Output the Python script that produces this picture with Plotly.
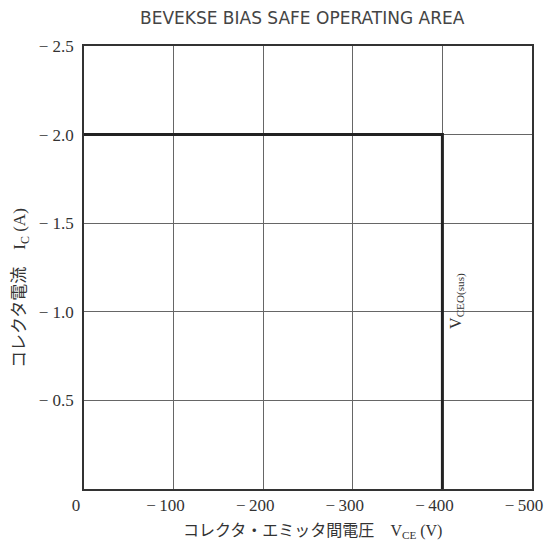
import plotly.graph_objects as go

# Data
soa_vce = [0, -400, -400]
soa_ic = [-2.0, -2.0, 0.0]
x_ticks = [0, -100, -200, -300, -400, -500]
x_tick_labels = ["0", "−\u2009100", "−\u2009200", "−\u2009300", "−\u2009400", "−\u2009500"]
y_ticks = [-0.5, -1.0, -1.5, -2.0, -2.5]
y_tick_labels = ["− 0.5", "− 1.0", "− 1.5", "− 2.0", "− 2.5"]

title_text = "BEVEKSE BIAS SAFE OPERATING AREA"
serif = "Liberation Serif, Times New Roman, serif"
cjk = "Noto Sans CJK JP, Liberation Serif, serif"
x_title = ("コレクタ・エミッタ間電圧　"
           f"<span style='font-family:{serif}'>V<sub>CE</sub> (V)</span>")
y_title = ("コレクタ電流　"
           f"<span style='font-family:{serif}'>I<sub>C</sub> (A)</span>")
vceo_label = "V<sub>CEO(sus)</sub>"

L, R, T, B, W, H = 84, 13, 46, 55, 545, 544
pw, ph = W - L - R, H - T - B


def px(x, y):
    return (x - L) / pw, (H - B - y) / ph


fig = go.Figure()
fig.add_trace(go.Scatter(
    x=soa_vce, y=soa_ic, mode="lines",
    line=dict(color="#222", width=3),
    showlegend=False, hoverinfo="skip",
))

fig.add_annotation(
    x=-416, y=-1.06, xref="x", yref="y",
    text=vceo_label, textangle=-90, showarrow=False,
    xanchor="center", yanchor="middle",
    font=dict(family=serif, size=16, color="#333"),
)
ax, ay = px(312, 529)
fig.add_annotation(x=ax, y=ay, xref="paper", yref="paper", text=x_title,
                   xanchor="center", yanchor="middle",
                   showarrow=False, font=dict(family=cjk, size=16, color="#333"))
ax, ay = px(18, 288)
fig.add_annotation(x=ax, y=ay, xref="paper", yref="paper", text=y_title,
                   textangle=-90, showarrow=False,
                   xanchor="center", yanchor="middle",
                   font=dict(family=cjk, size=17, color="#333"))
ax, ay = px(302, 18)
fig.add_annotation(x=ax, y=ay, xref="paper", yref="paper", text=title_text,
                   showarrow=False, xanchor="center", yanchor="middle",
                   font=dict(family="DejaVu Sans, sans-serif", size=17, color="#444"))

fig.update_layout(
    width=W, height=H,
    margin=dict(l=L, r=R, t=T, b=B, autoexpand=False),
    paper_bgcolor="white", plot_bgcolor="white",
    font=dict(family=serif, color="#333"),
)

fig.update_xaxes(
    range=[0, -500], tickvals=x_ticks, ticktext=x_tick_labels,
    showgrid=True, gridcolor="#666", gridwidth=1,
    showline=True, linecolor="#333", linewidth=1.5, mirror=True,
    zeroline=False, ticks="", tickfont=dict(family=serif, size=17, color="#333"),
    ticklabelshift=8, ticklabelstandoff=0, automargin=False,
    ticklabeloverflow="allow",
)
fig.update_yaxes(
    range=[0, -2.5], tickvals=y_ticks, ticktext=y_tick_labels,
    showgrid=True, gridcolor="#666", gridwidth=1,
    showline=True, linecolor="#333", linewidth=1.5, mirror=True,
    zeroline=False, ticks="", tickfont=dict(family=serif, size=17, color="#333"),
    ticklabelstandoff=5, automargin=False,
)

fig.write_html("out.html", config={"displayModeBar": False},
               post_script="document.body.style.margin='0';")
